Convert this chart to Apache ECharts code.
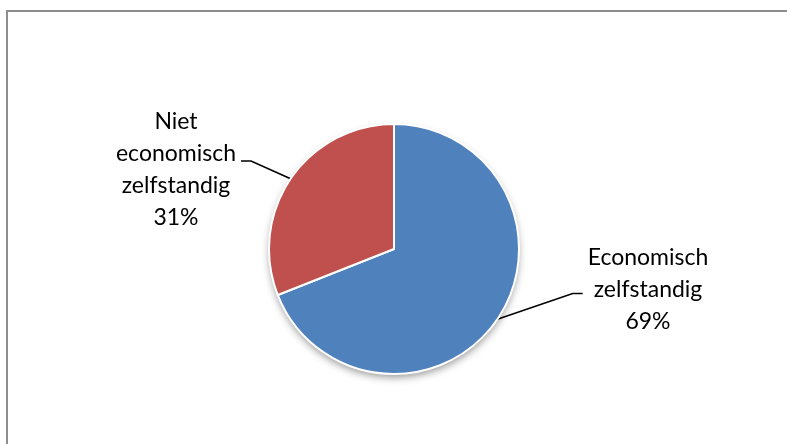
<!DOCTYPE html>
<html>
<head>
<meta charset="utf-8">
<script src="https://cdn.jsdelivr.net/npm/echarts@6/dist/echarts.min.js"></script>
<style>
  html, body { margin: 0; padding: 0; background: #fff; }
  #chart { width: 787px; height: 444px; }
</style>
</head>
<body>
<div id="chart"></div>
<script>
// data
const categories = ['Economisch\nzelfstandig', 'Niet\neconomisch\nzelfstandig'];
const values = [69, 31];
const colors = ['#4f81bd', '#c0504d'];

// label anchors (px); a thin spacer line shifts where the leader line meets the text block
const labelAnchor = [[645.5, 293.5], [178.5, 161]];
const labelFmt = ['{b}\n{d}%\n{s| }', '{s| }\n{b}\n{d}%'];
const spacer = [8, 18];
const labelPad = [[0, 0, 0, 5], [0, 5, 0, 0]];

const chart = echarts.init(document.getElementById('chart'), null, { renderer: 'canvas' });

const total = values.reduce((a, b) => a + b, 0);

chart.setOption({
  animation: false,
  graphic: [{
    type: 'rect', silent: true, z: -10,
    shape: { x: 7, y: 11, width: 900, height: 600 },
    style: { fill: 'none', stroke: '#8d8d8d', lineWidth: 2 }
  }],
  series: [
    { // shadow disc behind the pie
      type: 'pie', silent: true, z: 1,
      center: [394, 249], radius: 124,
      label: { show: false }, labelLine: { show: false },
      data: [{ value: total, itemStyle: { color: '#fff', shadowBlur: 9, shadowOffsetY: 4, shadowColor: 'rgba(0,0,0,0.45)' } }]
    },
    {
      type: 'pie', z: 2,
      center: [394, 249], radius: 125,
      startAngle: 90, clockwise: true,
      percentPrecision: 0,
      itemStyle: { borderColor: '#fff', borderWidth: 2 },
      label: {
        show: true, position: 'outside',
        fontFamily: 'Lato', fontSize: 23, lineHeight: 32, color: '#000'
      },
      labelLine: { show: true, length: 20, length2: 10, lineStyle: { color: '#000', width: 1.6 } },
      labelLayout: (p) => ({
        x: labelAnchor[p.dataIndex][0],
        y: labelAnchor[p.dataIndex][1],
        align: 'center', verticalAlign: 'middle'
      }),
      data: categories.map((name, i) => ({
        name, value: values[i],
        itemStyle: { color: colors[i] },
        label: {
          formatter: labelFmt[i],
          padding: labelPad[i],
          rich: { s: { fontSize: 4, lineHeight: spacer[i] } }
        }
      }))
    }
  ]
});
</script>
</body>
</html>
